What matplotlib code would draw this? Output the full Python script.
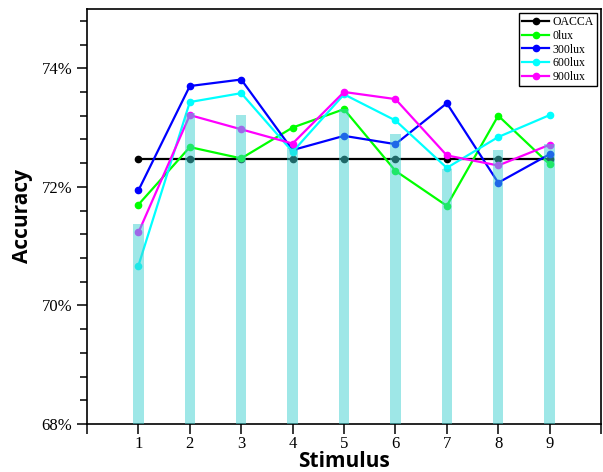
import matplotlib
matplotlib.use("Agg")
import matplotlib.pyplot as plt
from matplotlib.ticker import MultipleLocator, FuncFormatter

# ── Data ──────────────────────────────────────────────────────────────────────
stimulus = [1, 2, 3, 4, 5, 6, 7, 8, 9]
bar_acc = [71.38, 73.25, 73.21, 72.66, 73.32, 72.89, 72.30, 72.62, 72.73]

oacca = [72.47, 72.47, 72.47, 72.47, 72.47, 72.47, 72.47, 72.47, 72.47]
lux0 = [71.70, 72.67, 72.48, 73.00, 73.31, 72.27, 71.68, 73.20, 72.38]
lux300 = [71.94, 73.70, 73.81, 72.62, 72.86, 72.72, 73.41, 72.07, 72.55]
lux600 = [70.67, 73.43, 73.58, 72.59, 73.56, 73.12, 72.32, 72.84, 73.21]
lux900 = [71.23, 73.21, 72.97, 72.73, 73.60, 73.48, 72.53, 72.36, 72.71]

series = [
    ("OACCA", oacca, "black"),
    ("0lux", lux0, "#00FF00"),
    ("300lux", lux300, "#0000FF"),
    ("600lux", lux600, "#00FFFF"),
    ("900lux", lux900, "#FF00FF"),
]

SERIF = ["Liberation Serif", "DejaVu Serif"]

fig = plt.figure(figsize=(6.03, 4.72), dpi=100)
ax = fig.add_axes([0.1443, 0.1017, 0.8524, 0.8793])

for name, vals, color in series:
    ax.plot(stimulus, vals, color=color, lw=1.6, marker="o", ms=4.5,
            label=name, zorder=2)

# bars drawn on top, semi-transparent
ax.bar(stimulus, [v - 68 for v in bar_acc], bottom=68, width=0.2,
       color="#3ED1D1", alpha=0.5, zorder=3)

ax.set_xlim(0, 10)
ax.set_ylim(68, 75)
ax.set_xticks(range(0, 11))
ax.set_xticklabels([""] + [str(s) for s in stimulus] + [""])
ax.yaxis.set_major_locator(MultipleLocator(2))
ax.yaxis.set_minor_locator(MultipleLocator(0.4))
ax.yaxis.set_major_formatter(FuncFormatter(lambda v, p: f"{v:.0f}%"))

ax.tick_params(axis="both", which="major", direction="out", length=7,
               width=1.1, labelsize=12)
ax.tick_params(axis="x", which="major", pad=2)
ax.tick_params(axis="y", which="minor", direction="out", length=5, width=1.1)
for lab in ax.get_xticklabels() + ax.get_yticklabels():
    lab.set_family(SERIF)
for sp in ax.spines.values():
    sp.set_linewidth(1.2)

ax.set_xlabel("Stimulus", fontsize=15, fontweight="bold", family="Open Sans",
              labelpad=-1)
ax.set_ylabel("Accuracy", fontsize=15, fontweight="bold", family="Open Sans",
              labelpad=6)

leg = ax.legend(loc="upper right", prop={"family": SERIF, "size": 8.5},
                fancybox=False, edgecolor="black", framealpha=1,
                handlelength=2.3, borderaxespad=0.35, labelspacing=0.15,
                handletextpad=0.3, borderpad=0.25)
leg.get_frame().set_linewidth(1.0)

fig.savefig("out.png", dpi=100)
